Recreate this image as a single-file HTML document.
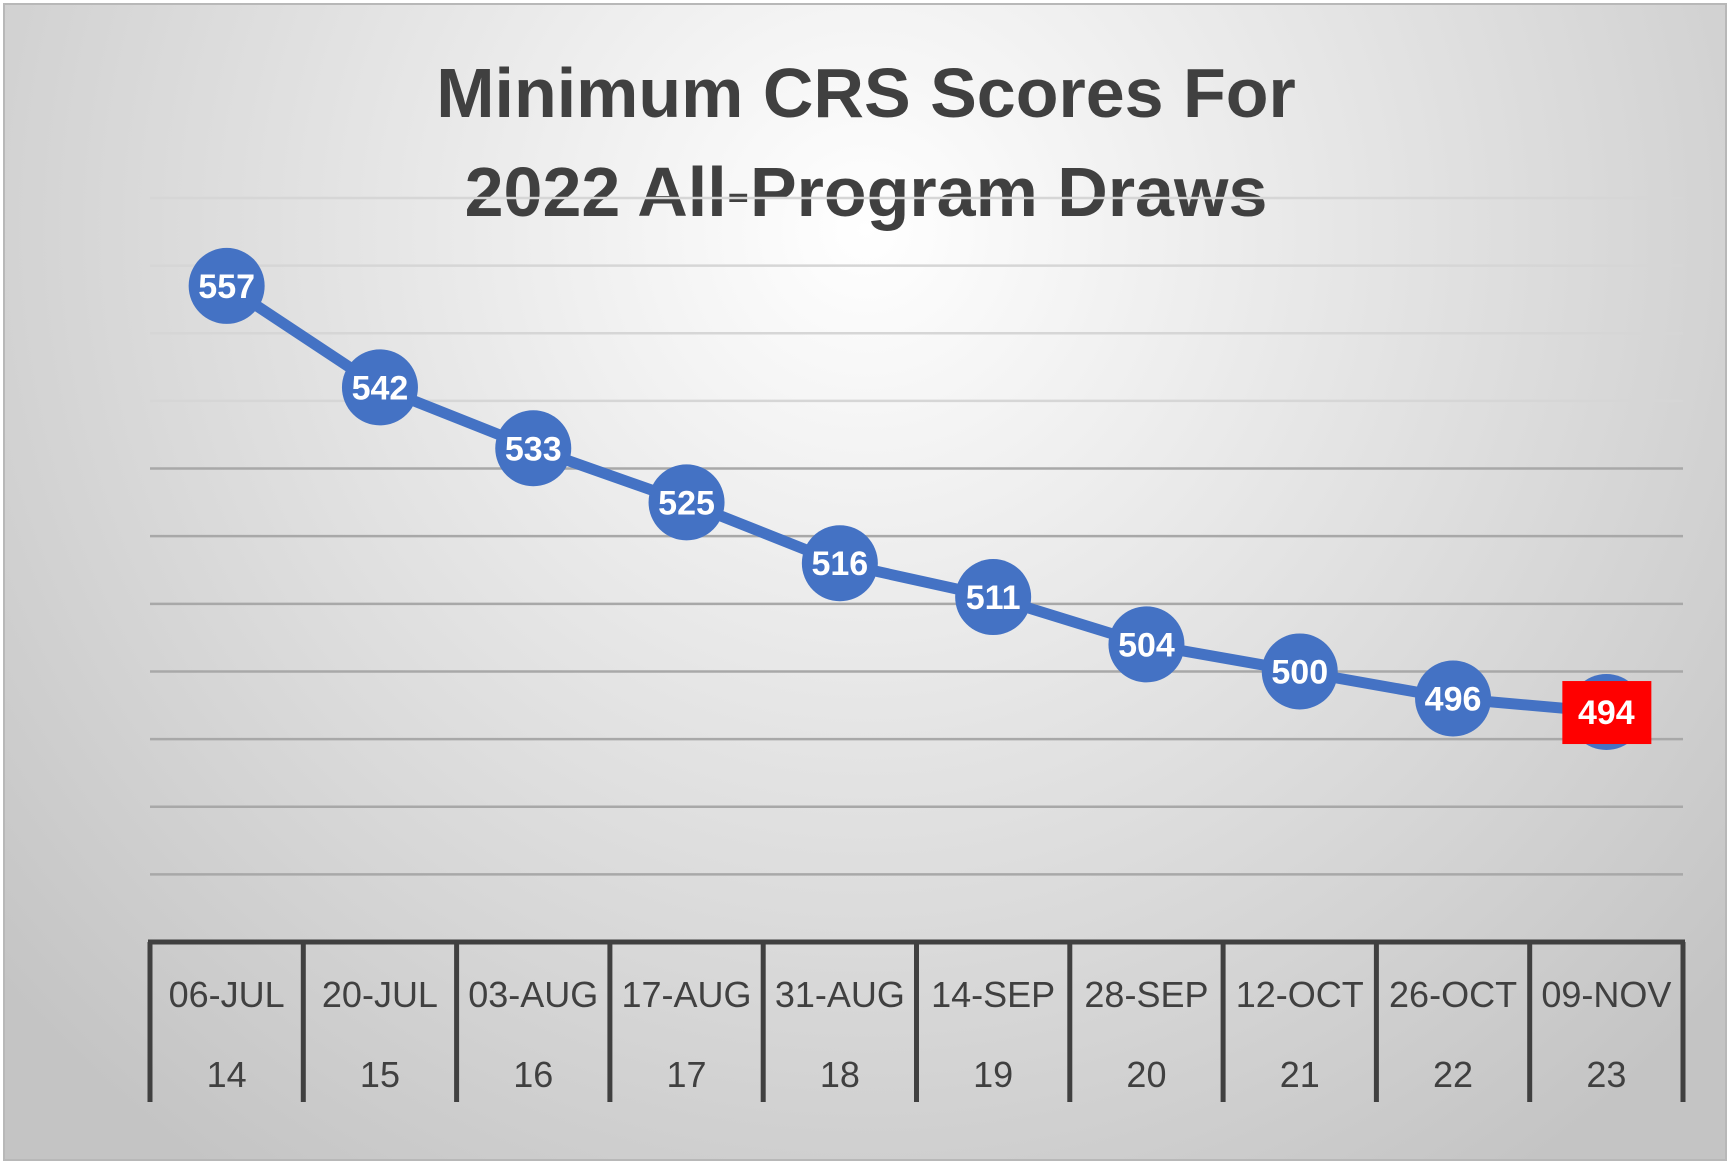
<!DOCTYPE html>
<html><head><meta charset="utf-8"><style>
html,body{margin:0;padding:0;background:#fff;}
#wrap{position:relative;width:1732px;height:1168px;overflow:hidden;}
svg{display:block;font-family:"Liberation Sans",sans-serif;}
</style></head><body>
<div id="wrap">
<svg id="chart" width="1732" height="1168" viewBox="0 0 1732 1168">
<defs>
<radialGradient id="bg" cx="866" cy="230" r="1150" gradientUnits="userSpaceOnUse">
<stop offset="0" stop-color="#ffffff"/>
<stop offset="0.45" stop-color="#e4e4e4"/>
<stop offset="1" stop-color="#c4c4c4"/>
</radialGradient>
</defs>
<rect x="4" y="4" width="1722" height="1156" fill="url(#bg)" stroke="#b8b8b8" stroke-width="2"/>
<text x="866" y="117" text-anchor="middle" font-size="70" font-weight="bold" fill="#404040">Minimum CRS Scores For</text>
<text x="866" y="216" text-anchor="middle" font-size="70" font-weight="bold" fill="#404040">2022 All-Program Draws</text>
<g id="grid"></g>
<g id="axis"></g>
<g id="series"></g>
</svg>
</div>
<script>
const dates = ["06-JUL","20-JUL","03-AUG","17-AUG","31-AUG","14-SEP","28-SEP","12-OCT","26-OCT","09-NOV"];
const drawNums = ["14","15","16","17","18","19","20","21","22","23"];
const scores = [557,542,533,525,516,511,504,500,496,494];
const gridValues = [470,480,490,500,510,520,530,540,550,560,570];
const yMin = 460, yMax = 570;

const NS = "http://www.w3.org/2000/svg";
const plotL = 150, plotR = 1683, axisY = 942, topY = 198, axisBottom = 1102;
const colW = (plotR - plotL) / dates.length;
function xPos(i){ return plotL + colW * (i + 0.5); }
function yPos(v){ return axisY - (v - yMin) / (yMax - yMin) * (axisY - topY); }
function mk(tag, attrs, parent){
  const e = document.createElementNS(NS, tag);
  for (const k in attrs) e.setAttribute(k, attrs[k]);
  parent.appendChild(e);
  return e;
}
const gridG = document.getElementById('grid');
gridValues.forEach(v => {
  const l = mk('line', {x1: plotL, x2: plotR, y1: yPos(v), y2: yPos(v), stroke: v >= 540 ? '#d6d6d6' : '#a8a8a8', 'stroke-width': 2.5}, gridG);
  
  
});
const axisG = document.getElementById('axis');
const axisLine = mk('line', {x1: plotL - 2, x2: plotR + 2, y1: axisY, y2: axisY, stroke: '#404040', 'stroke-width': 5}, axisG);


for (let i = 0; i <= dates.length; i++) {
  const x = plotL + colW * i;
  const d = mk('line', {x1: x, x2: x, y1: axisY, y2: axisBottom, stroke: '#404040', 'stroke-width': 5}, axisG);
  
  
}
dates.forEach((s, i) => {
  const t = mk('text', {x: xPos(i), y: 1007, 'text-anchor': 'middle', 'font-size': 36, fill: '#404040'}, axisG);
  t.textContent = s;
  
  
  const t2 = mk('text', {x: xPos(i), y: 1087, 'text-anchor': 'middle', 'font-size': 36, fill: '#404040'}, axisG);
  t2.textContent = drawNums[i];
  
  
});
const seriesG = document.getElementById('series');
const pts = scores.map((v, i) => xPos(i) + ',' + yPos(v)).join(' ');
const pl = mk('polyline', {points: pts, fill: 'none', stroke: '#4472c4', 'stroke-width': 11, 'stroke-linejoin': 'round'}, seriesG);


scores.forEach((v, i) => {
  const cx = xPos(i), cy = yPos(v);
  const c = mk('circle', {cx: cx, cy: cy, r: 38, fill: '#4472c4'}, seriesG);
  
  
  if (i === scores.length - 1) {
    const r = mk('rect', {x: cx - 44, y: cy - 31, width: 89, height: 63, fill: '#ff0000'}, seriesG);
    
    
  }
  const t = mk('text', {x: cx, y: cy + 12, 'text-anchor': 'middle', 'font-size': 34, 'font-weight': 'bold', fill: '#ffffff'}, seriesG);
  t.textContent = v;
  
  
});
</script>
</body></html>
